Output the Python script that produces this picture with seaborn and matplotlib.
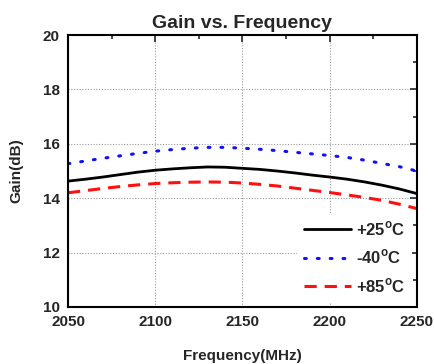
import matplotlib
matplotlib.use("Agg")
import matplotlib.pyplot as plt
import seaborn as sns
import pandas as pd
from matplotlib.ticker import MultipleLocator

freq = [2050, 2060, 2070, 2080, 2090, 2100, 2110, 2120, 2130, 2140, 2150,
        2160, 2170, 2180, 2190, 2200, 2210, 2220, 2230, 2240, 2250]
gain_25 = [14.63, 14.70, 14.78, 14.87, 14.96, 15.03, 15.08, 15.12, 15.15, 15.14, 15.10,
           15.06, 15.00, 14.93, 14.85, 14.78, 14.70, 14.60, 14.48, 14.34, 14.17]
gain_m40 = [15.27, 15.37, 15.47, 15.56, 15.65, 15.73, 15.79, 15.84, 15.87, 15.87, 15.84,
            15.80, 15.75, 15.69, 15.63, 15.57, 15.50, 15.40, 15.28, 15.16, 15.00]
gain_85 = [14.20, 14.28, 14.36, 14.43, 14.49, 14.54, 14.57, 14.59, 14.60, 14.59, 14.56,
           14.51, 14.45, 14.37, 14.29, 14.21, 14.12, 14.03, 13.92, 13.78, 13.62]
labels = ["+25$^{\\mathrm{o}}$C", "-40$^{\\mathrm{o}}$C", "+85$^{\\mathrm{o}}$C"]

sns.set_style("white")
plt.rcParams['font.family'] = ['Liberation Sans', 'DejaVu Sans']
plt.rcParams['font.weight'] = 'bold'
plt.rcParams['mathtext.fontset'] = 'custom'
plt.rcParams['mathtext.rm'] = 'Liberation Sans:bold'

fig = plt.figure(figsize=(4.34, 3.64), dpi=100)
ax = fig.add_axes([0.1567, 0.1566, 0.804, 0.747])

df = pd.DataFrame({"freq": freq, "g25": gain_25, "gm40": gain_m40, "g85": gain_85})
sns.lineplot(data=df, x="freq", y="g25", ax=ax, color="black", lw=2, label=labels[0])
sns.lineplot(data=df, x="freq", y="gm40", ax=ax, color="#1010ff", lw=2.2,
             linestyle=(0, (0.6, 3.6)), dash_capstyle="round", label=labels[1])
sns.lineplot(data=df, x="freq", y="g85", ax=ax, color="#ff1010", lw=2.2,
             linestyle=(0, (4, 2.6)), label=labels[2])

ax.set_xlim(2050, 2250)
ax.set_ylim(10, 20)
ax.xaxis.set_major_locator(MultipleLocator(50))
ax.xaxis.set_minor_locator(MultipleLocator(25))
ax.yaxis.set_major_locator(MultipleLocator(2))
ax.yaxis.set_minor_locator(MultipleLocator(1))
ax.tick_params(which="both", direction="in", top=True, right=True, width=1.2,
               labelsize=11)
ax.tick_params(axis="x", which="major", length=5, pad=6)
ax.tick_params(axis="y", which="major", length=5, pad=6)
ax.tick_params(which="minor", length=3)
for lab in ax.get_xticklabels() + ax.get_yticklabels():
    lab.set_fontweight("bold")
ax.grid(True, which="major", linestyle=(0, (1, 1.5)), color="#999999", lw=0.8)
for s in ax.spines.values():
    s.set_linewidth(1.5)
    s.set_color("black")

ax.set_title("Gain vs. Frequency", fontsize=14, fontweight="bold", pad=5)
ax.set_xlabel("Frequency(MHz)", fontsize=11, fontweight="bold", labelpad=14)
ax.set_ylabel("Gain(dB)", fontsize=11, fontweight="bold", labelpad=14)

leg = ax.legend(loc="lower right", frameon=True, fontsize=12, handlelength=2.8,
                handletextpad=0.3, labelspacing=0.6, borderaxespad=0.3,
                fancybox=False, framealpha=1, edgecolor="none")
for t in leg.get_texts():
    t.set_fontweight("bold")

fig.savefig("out.png", dpi=100)
